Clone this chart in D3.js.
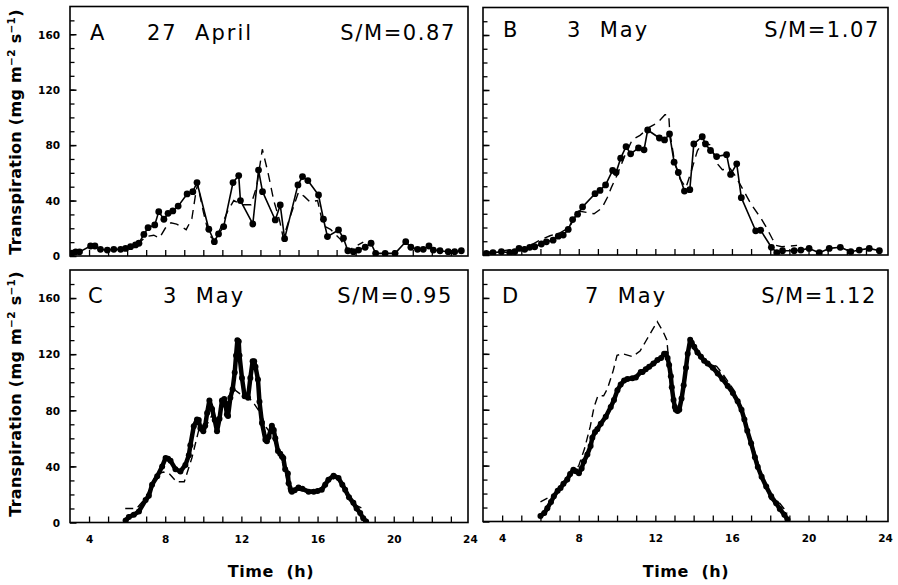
<!DOCTYPE html>
<html><head><meta charset="utf-8">
<script src="https://cdn.jsdelivr.net/npm/d3@7"></script>
<style>
body{margin:0;background:#fff;}
svg{display:block;}
</style></head>
<body>
<svg id="chart" width="898" height="585"></svg>
<script>
// ---------------- DATA ----------------
const panelLetters = ["A","B","C","D"];
const panelDates = ["27  April","3  May","3  May","7  May"];
const panelRatios = ["S/M=0.87","S/M=1.07","S/M=0.95","S/M=1.12"];
const yTickLabels = [0,40,80,120,160];
const xTickLabels = [4,8,12,16,20,24];

// Panel A: measured (solid with dots) and modelled (dashed)
const measA = [[3.1,2],[3.3,3],[3.5,3],[4.08,7.2],[4.31,7.2],[4.6,4.8],[4.96,4.3],[5.3,4.8],[5.66,4.8],[5.92,5.5],[6.18,6.7],[6.44,8],[6.62,9.2],[6.88,15.6],[7.1,20.4],[7.45,22.4],[7.66,32],[7.93,26.5],[8.15,30.8],[8.4,32.5],[8.68,36],[9.15,44.8],[9.45,46.4],[9.67,53],[10.29,19.3],[10.58,10.3],[10.8,15.9],[11.07,21.2],[11.56,53],[11.86,58],[11.95,40],[12.6,23.1],[12.9,62],[13.11,46.4],[13.78,26],[14.04,36.8],[14.27,12.5],[14.97,51.3],[15.21,57.3],[15.49,54.4],[16.05,44],[16.31,26.5],[16.52,14],[17.1,18.8],[17.36,12.8],[17.59,3.8],[17.88,3.1],[18.15,4.3],[18.5,6.3],[18.81,9.2],[19.05,1.9],[19.55,1.9],[20.07,1.9],[20.63,10.3],[20.9,6.3],[21.25,4.8],[21.55,4.8],[21.85,7.2],[22.08,4.3],[22.43,3.8],[22.86,3.1],[23.2,3.1],[23.55,3.8]];
const modA = [[6.5,8],[7.0,14],[7.4,15],[7.7,13],[8.0,20],[8.3,24],[8.6,23],[9.1,19],[9.4,27],[9.6,45],[9.7,52],[10.0,32],[10.3,15],[10.6,11],[10.9,20],[11.3,33],[11.6,40],[12.0,37],[12.5,37],[12.8,50],[13.1,77],[13.4,60],[13.7,40],[14.0,26],[14.2,13],[14.6,30],[15.0,46],[15.3,43],[15.6,39],[16.0,40],[16.3,22],[16.7,19],[17.2,12],[17.6,4],[18.0,7],[18.4,10]];

// Panel B
const measB = [[3.17,1.2],[3.52,1.7],[3.96,2.4],[4.4,1.7],[4.66,2.4],[4.88,4.8],[5.18,4.1],[5.44,5.6],[5.7,6],[6.05,8],[6.31,9.6],[6.66,10.8],[6.93,13.7],[7.19,14.5],[7.45,18.6],[7.68,25.8],[7.94,29.7],[8.2,35],[8.85,44.6],[9.11,47],[9.4,51],[9.77,61.5],[9.95,60],[10.19,70.4],[10.47,78.8],[10.71,73.6],[11.12,77.9],[11.41,76.5],[11.6,90.9],[12.21,85.1],[12.48,83.7],[12.74,88],[12.98,67.5],[13.2,60],[13.52,46.5],[13.8,47.5],[14.01,80.8],[14.45,86],[14.62,80.8],[14.88,76],[15.2,71.6],[15.72,73],[15.93,58.6],[16.25,66.3],[16.49,41.7],[17.24,17.6],[17.5,18],[18.06,5.6],[18.34,1.7],[18.64,3.1],[19.25,3.1],[19.6,3.6],[20.03,4.8],[20.56,1.7],[21.08,4.8],[21.66,5.6],[22.21,2.4],[22.65,3.6],[23.17,4.8],[23.7,3.1]];
const modB = [[3.2,2],[4.0,3],[5.0,5],[5.6,8],[6.0,11],[6.5,14],[7.0,16],[7.5,20],[8.0,32],[8.4,31],[8.8,30],[9.2,34],[9.5,42],[9.7,49],[10.0,58],[10.4,72],[10.8,84],[11.2,87],[11.7,93],[12.1,96],[12.5,102],[12.7,102],[12.75,90],[13.0,68],[13.3,55],[13.6,49],[13.9,62],[14.2,76],[14.5,82],[14.9,80],[15.2,67],[15.5,62],[15.9,63],[16.2,57],[16.6,47],[17.0,37],[17.5,27],[17.8,20],[18.1,12],[18.3,7],[18.6,6],[19.4,7]];

// Panel C
const measC = [[5.92,1.4],[6.09,4],[6.35,5.5],[6.62,7.9],[6.97,16],[7.14,19],[7.31,27],[7.58,33],[7.84,40],[8.02,46],[8.15,45.5],[8.28,44],[8.54,38],[8.8,36.4],[9.06,41],[9.24,48],[9.32,55],[9.5,68.6],[9.67,73.4],[9.76,73],[9.85,67],[10.0,65],[10.1,69],[10.2,78],[10.32,87],[10.46,81],[10.6,73],[10.72,65],[10.85,74],[10.98,87],[11.1,88],[11.16,85],[11.24,77],[11.3,76],[11.42,89],[11.54,95],[11.65,107],[11.72,119],[11.79,130],[11.86,129],[11.9,119],[12.03,103],[12.17,90],[12.35,89],[12.47,103],[12.59,115],[12.67,115],[12.74,111],[12.87,102],[12.95,86],[13.08,71],[13.26,59],[13.34,58],[13.43,61],[13.6,69],[13.7,66],[13.78,60],[13.92,51],[14.04,49],[14.13,47],[14.2,46],[14.3,38],[14.44,35],[14.48,28],[14.65,22],[14.8,23],[15.0,25],[15.2,24],[15.53,22],[15.8,22],[16.0,22.5],[16.22,23.4],[16.4,27],[16.57,30.5],[16.84,33.4],[17.1,31.7],[17.3,27],[17.45,23.4],[17.65,18],[17.88,14],[18.05,10],[18.24,6.7],[18.4,3],[18.55,0.7]];
const modC = [[5.9,10],[6.5,10],[7.0,18],[7.5,34],[7.9,36],[8.2,35],[8.6,29],[9.0,29],[9.4,46],[9.8,68],[10.2,70],[10.6,80],[11.0,82],[11.4,86],[11.6,95],[12.0,91],[12.4,89],[12.7,84],[13.0,78],[13.3,68],[13.6,62],[14.0,50],[14.3,36],[14.5,22],[15.0,23],[16.0,23],[16.6,30],[17.0,32],[17.4,24],[17.9,13],[18.3,10.5]];

// Panel D
const measD = [[6.0,4],[6.2,6],[6.36,9.5],[6.55,14],[6.7,18],[6.9,22],[7.05,24],[7.2,27],[7.4,30],[7.55,34],[7.72,37],[7.85,36],[8.01,34.6],[8.15,38],[8.27,43],[8.45,48],[8.62,54],[8.71,60],[8.85,64],[8.97,66],[9.15,70],[9.41,75],[9.67,82],[9.84,87],[10.02,94],[10.19,98],[10.37,101],[10.54,102],[10.8,102.5],[10.98,103],[11.24,107],[11.33,107],[11.5,109],[11.68,110.7],[11.9,113],[12.11,115.5],[12.3,117],[12.46,120],[12.55,120],[12.64,117],[12.72,112],[12.81,104],[12.86,96],[12.95,87],[13.02,82],[13.07,80],[13.16,79],[13.25,80],[13.37,88],[13.48,97.6],[13.6,110],[13.69,120],[13.82,130],[13.9,128],[14.03,125],[14.2,121],[14.38,118],[14.55,115],[14.73,113],[15.0,110],[15.26,106],[15.5,102],[15.78,97],[16.05,92],[16.3,86],[16.5,80],[16.65,73],[16.8,65],[17.0,56],[17.2,46],[17.35,39],[17.55,32],[17.79,25],[18.05,18],[18.31,13],[18.5,9],[18.74,4.8],[18.9,1.5]];
const modD = [[6.0,14],[6.4,17],[6.8,20],[7.2,26],[7.6,33],[8.0,40],[8.3,52],[8.6,68],[8.8,82],[9.0,90],[9.3,90],[9.5,95],[9.8,108],[10.0,119],[10.3,120],[10.8,118],[11.2,122],[11.5,129],[11.8,136],[12.1,143],[12.4,136],[12.6,130],[12.8,100],[13.0,84],[13.2,80],[13.5,95],[13.8,128],[14.2,122],[14.7,114],[15.2,111],[15.5,106],[15.8,100],[16.1,94],[16.5,80],[17.0,58],[17.5,36],[18.0,16],[18.5,13],[18.9,6]];

const measured = [measA, measB, measC, measD];
const modelled = [modA, modB, modC, modD];

// ---------------- LAYOUT ----------------
const layout = [
  {x0:70, x1:468, xMax:23.9, y0:256, y1:6.5, dense:false, letterDx:20, dateDx:77, ratioDx:-12, textY:40, yLabels:true, xLabels:false},
  {x0:483, x1:888, xMax:24.15, y0:255, y1:7.5, dense:false, letterDx:20, dateDx:84, ratioDx:-8, textY:37, yLabels:false, xLabels:false},
  {x0:70, x1:468, xMax:23.9, y0:522.5, y1:270, dense:true, letterDx:18, dateDx:93, ratioDx:-15, textY:303, yLabels:true, xLabels:true},
  {x0:483, x1:888, xMax:24.15, y0:521.5, y1:270, dense:true, letterDx:19, dateDx:102, ratioDx:-11, textY:303, yLabels:false, xLabels:true}
];

const svg = d3.select("#chart");
const tickFont = "'DejaVu Sans', sans-serif";

layout.forEach((L, i) => {
  const x = d3.scaleLinear().domain([3, L.xMax]).range([L.x0, L.x1]);
  const y = d3.scaleLinear().domain([0, 180]).range([L.y0, L.y1]);
  const g = svg.append("g");

  const yMinor = d3.axisLeft(y).tickValues(d3.range(10, 180, 10)).tickSize(-4.5).tickFormat("");
  g.append("g").attr("transform", `translate(${L.x0},0)`).call(yMinor)
    .call(s => s.select(".domain").remove())
    .call(s => s.selectAll("line").attr("stroke", "#000").attr("stroke-width", 1.3));
  const yMajor = d3.axisLeft(y).tickValues(yTickLabels).tickSize(-6.5).tickPadding(10)
    .tickFormat(L.yLabels ? d3.format("d") : "");
  g.append("g").attr("transform", `translate(${L.x0},0)`).call(yMajor)
    .call(s => s.select(".domain").remove())
    .call(s => s.selectAll("line").attr("stroke", "#000").attr("stroke-width", 1.5))
    .call(s => s.selectAll("text").attr("font-family", tickFont).attr("font-weight", "bold")
      .attr("font-size", 10.5).attr("fill", "#000").attr("dy", "0.36em"));

  const xMinor = d3.axisBottom(x).tickValues(d3.range(4, 24, 1)).tickSize(-6).tickFormat("");
  g.append("g").attr("transform", `translate(0,${L.y0})`).call(xMinor)
    .call(s => s.select(".domain").remove())
    .call(s => s.selectAll("line").attr("stroke", "#000").attr("stroke-width", 1.3));
  if (L.xLabels) {
    const xLab = d3.axisBottom(x).tickValues(xTickLabels).tickSize(0).tickPadding(13).tickFormat(d3.format("d"));
    g.append("g").attr("transform", `translate(0,${L.y0})`).call(xLab)
      .call(s => s.select(".domain").remove())
      .call(s => s.selectAll("text").attr("font-family", tickFont).attr("font-weight", "bold")
        .attr("font-size", 10.5).attr("fill", "#000"));
  }

  const clipId = "clip" + i;
  svg.append("clipPath").attr("id", clipId).append("rect")
    .attr("x", L.x0).attr("y", L.y1).attr("width", L.x1 - L.x0).attr("height", L.y0 - L.y1);

  const line = d3.line().x(d => x(d[0])).y(d => y(d[1]));
  const plot = g.append("g").attr("clip-path", `url(#${clipId})`);

  plot.append("path").datum(modelled[i]).attr("d", line)
    .attr("fill", "none").attr("stroke", "#000").attr("stroke-width", 1.4)
    .attr("stroke-dasharray", L.dense ? "8,5" : "9,6");

  plot.append("path").datum(measured[i]).attr("d", line)
    .attr("fill", "none").attr("stroke", "#000")
    .attr("stroke-width", L.dense ? 4.5 : 1.6).attr("stroke-linejoin", "round");
  plot.selectAll("circle.pt").data(measured[i]).join("circle").attr("class", "pt")
    .attr("cx", d => x(d[0])).attr("cy", d => y(d[1]))
    .attr("r", L.dense ? 3 : 3.4).attr("fill", "#000");

  g.append("rect").attr("x", L.x0).attr("y", L.y1).attr("width", L.x1 - L.x0).attr("height", L.y0 - L.y1)
    .attr("fill", "none").attr("stroke", "#000").attr("stroke-width", 1.6);

  const tf = "'DejaVu Sans', sans-serif";
  g.append("text").attr("x", L.x0 + L.letterDx).attr("y", L.textY).text(panelLetters[i])
    .attr("font-family", tf).attr("font-size", 21).attr("fill", "#000");
  g.append("text").attr("x", L.x0 + L.dateDx).attr("y", L.textY).text(panelDates[i])
    .attr("font-family", tf).attr("font-size", 21).attr("letter-spacing", 2).attr("fill", "#000")
    .style("white-space", "pre");
  g.append("text").attr("x", L.x1 + L.ratioDx).attr("y", L.textY).text(panelRatios[i])
    .attr("text-anchor", "end").attr("font-family", tf).attr("font-size", 21).attr("letter-spacing", 1.6).attr("fill", "#000");
});

const titleFont = "'DejaVu Sans', sans-serif";
[{cy:132},{cy:394}].forEach(t => {
  const txt = svg.append("text")
    .attr("transform", `translate(21,${t.cy}) rotate(-90)`)
    .attr("text-anchor", "middle").attr("font-family", titleFont).attr("font-weight", "bold")
    .attr("font-size", 16).attr("letter-spacing", 0.3).attr("fill", "#000").style("white-space", "pre");
  txt.append("tspan").text("Transpiration (mg m");
  txt.append("tspan").text("−2").attr("font-size", 10.5).attr("dy", -6);
  txt.append("tspan").text(" s").attr("dy", 6);
  txt.append("tspan").text("−1").attr("font-size", 10.5).attr("dy", -6);
  txt.append("tspan").text(")").attr("dy", 6);
});
[{cx:271},{cx:686}].forEach(t => {
  svg.append("text").attr("x", t.cx).attr("y", 577).attr("text-anchor", "middle")
    .attr("font-family", titleFont).attr("font-weight", "bold").attr("font-size", 16)
    .attr("letter-spacing", 0.6).attr("fill", "#000").style("white-space", "pre").text("Time  (h)");
});
</script>
</body></html>
